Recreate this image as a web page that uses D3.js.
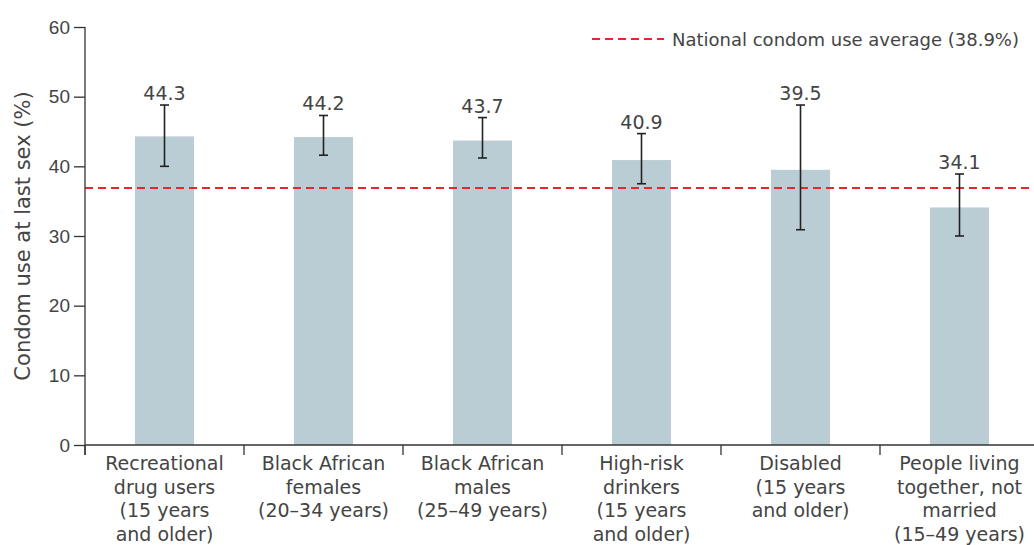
<!DOCTYPE html>
<html>
<head>
<meta charset="utf-8">
<script src="https://cdn.jsdelivr.net/npm/d3@7"></script>
<style>
  html, body { margin:0; padding:0; background:#fff; }
  svg { display:block; font-family:"DejaVu Sans", sans-serif; }
  .axis path, .axis line { stroke:#333; stroke-width:1.3; }
  .axis text { fill:#444; font-size:19px; }
</style>
</head>
<body>
<svg id="chart" width="1034" height="545"></svg>
<script>
// groups (multi-line tick labels) and their estimates with CI bounds
const GROUPS = [
  ["Recreational", "drug users", "(15 years", "and older)"],
  ["Black African", "females", "(20–34 years)"],
  ["Black African", "males", "(25–49 years)"],
  ["High-risk", "drinkers", "(15 years", "and older)"],
  ["Disabled", "(15 years", "and older)"],
  ["People living", "together, not", "married", "(15–49 years)"]
];
const VALUES  = [44.3, 44.2, 43.7, 40.9, 39.5, 34.1];
const CI_LOW  = [40.0, 41.6, 41.2, 37.5, 30.9, 30.0];
const CI_HIGH = [48.8, 47.3, 47.0, 44.7, 48.8, 38.9];
const AVG_LINE = 36.9;   // where the dashed line is drawn
const AVG_LABEL = "National condom use average (38.9%)";
const Y_TICKS = [0, 10, 20, 30, 40, 50, 60];

const TEXT = "#444", BAR = "#bacdd4", RED = "#e8262e", ERR = "#222";

const svg = d3.select("#chart");
const m = {left:85, top:27, bottom:100};
const plotW = 159*6, plotH = 545 - m.top - m.bottom;

const rows = GROUPS.map((g,i)=>({i, lines:g, v:VALUES[i], lo:CI_LOW[i], hi:CI_HIGH[i]}));

const x = d3.scaleBand().domain(d3.range(GROUPS.length)).range([m.left, m.left+plotW]);
const y = d3.scaleLinear().domain([0, 60]).range([m.top+plotH, m.top]);
const barW = 59;

// bars
svg.append("g").selectAll("rect").data(rows).join("rect")
  .attr("x", d=>x(d.i)+x.bandwidth()/2-barW/2)
  .attr("y", d=>y(d.v))
  .attr("width", barW)
  .attr("height", d=>y(0)-y(d.v))
  .attr("fill", BAR);

// national average
svg.append("line")
  .attr("x1", m.left).attr("x2", 1034)
  .attr("y1", y(AVG_LINE)).attr("y2", y(AVG_LINE))
  .attr("stroke", RED).attr("stroke-width", 2).attr("stroke-dasharray", "8,5");

// error bars
const eb = svg.append("g").attr("stroke", ERR).attr("stroke-width", 1.6);
rows.forEach(d=>{
  const cx = x(d.i)+x.bandwidth()/2;
  eb.append("line").attr("x1",cx).attr("x2",cx).attr("y1",y(d.lo)).attr("y2",y(d.hi));
  eb.append("line").attr("x1",cx-4.5).attr("x2",cx+4.5).attr("y1",y(d.lo)).attr("y2",y(d.lo));
  eb.append("line").attr("x1",cx-4.5).attr("x2",cx+4.5).attr("y1",y(d.hi)).attr("y2",y(d.hi));
});

// value labels
svg.append("g").selectAll("text").data(rows).join("text")
  .attr("x", d=>x(d.i)+x.bandwidth()/2)
  .attr("y", d=>y(d.hi)-5)
  .attr("text-anchor","middle")
  .attr("fill", TEXT).attr("font-size", 19)
  .text(d=>d.v.toFixed(1));

// y axis
const yAxis = svg.append("g").attr("class","axis")
  .attr("transform", `translate(${m.left},0)`)
  .call(d3.axisLeft(y).tickValues(Y_TICKS).tickSize(11).tickPadding(4));
yAxis.select(".domain").attr("d", `M0,${m.top}V${y(0)+10}`);

// x axis: ticks at band boundaries, labels below
const xg = svg.append("g").attr("class","axis");
xg.append("line").attr("x1", m.left).attr("x2", m.left+plotW).attr("y1", y(0)).attr("y2", y(0));
xg.selectAll("line.tk").data(d3.range(GROUPS.length+1)).join("line").attr("class","tk")
  .attr("x1", i=>m.left+i*x.step()).attr("x2", i=>m.left+i*x.step())
  .attr("y1", y(0)).attr("y2", y(0)+10);
const lab = xg.selectAll("text.cat").data(rows).join("text").attr("class","cat")
  .attr("text-anchor","middle").attr("fill", TEXT).attr("font-size", 18.5)
  .attr("transform", d=>`translate(${x(d.i)+x.bandwidth()/2},${y(0)+25})`);
lab.selectAll("tspan").data(d=>d.lines).join("tspan")
  .attr("x", 0).attr("dy", (t,j)=> j===0 ? 0 : 23.5).text(t=>t);

// y title
svg.append("text")
  .attr("transform", `translate(30,${236}) rotate(-90)`)
  .attr("text-anchor","middle").attr("fill", TEXT).attr("font-size", 21)
  .text("Condom use at last sex (%)");

// legend
const lg = svg.append("g").attr("transform","translate(592,39)");
lg.append("line").attr("x1",0).attr("x2",72).attr("y1",0).attr("y2",0)
  .attr("stroke", RED).attr("stroke-width", 2).attr("stroke-dasharray","8,5");
lg.append("text").attr("x", 80).attr("y", 7).attr("fill", TEXT).attr("font-size", 18)
  .text(AVG_LABEL);
</script>
</body>
</html>
